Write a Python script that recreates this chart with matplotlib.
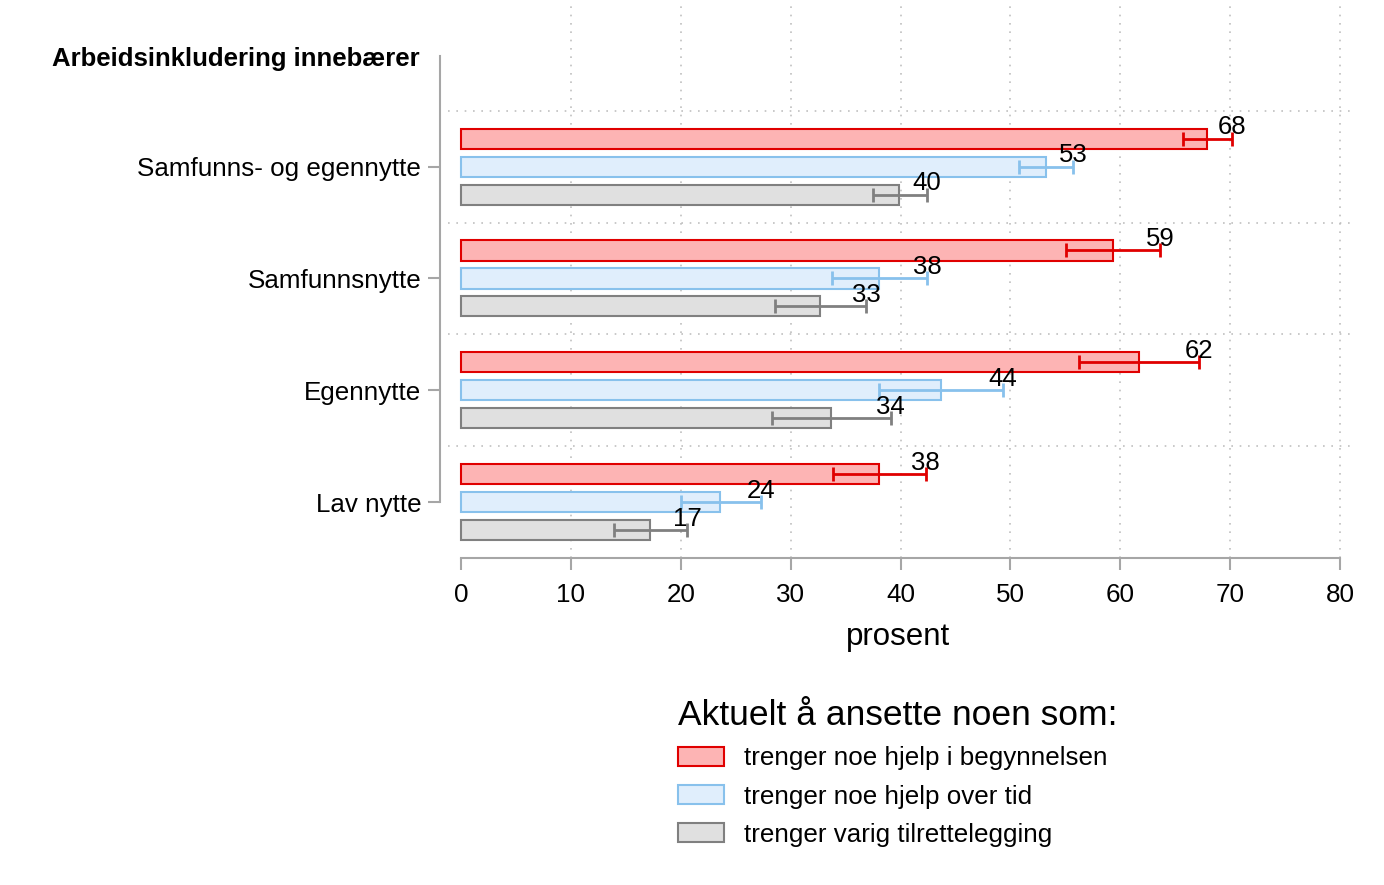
import matplotlib.pyplot as plt
from matplotlib.patches import Patch

plt.rcParams["font.family"] = ["Liberation Sans", "DejaVu Sans"]

# data
categories = ["Samfunns- og egennytte", "Samfunnsnytte", "Egennytte", "Lav nytte"]
series = ["trenger noe hjelp i begynnelsen", "trenger noe hjelp over tid",
          "trenger varig tilrettelegging"]
values = [
    [67.9, 59.3, 61.7, 38.0],
    [53.2, 38.0, 43.7, 23.6],
    [39.9, 32.7, 33.7, 17.2],
]
ci_low = [
    [65.7, 55.1, 56.2, 33.9],
    [50.8, 33.8, 38.0, 20.0],
    [37.5, 28.6, 28.3, 13.9],
]
ci_high = [
    [70.2, 63.6, 67.2, 42.3],
    [55.7, 42.4, 49.3, 27.3],
    [42.4, 36.9, 39.1, 20.6],
]
labels = [
    ["68", "59", "62", "38"],
    ["53", "38", "44", "24"],
    ["40", "33", "34", "17"],
]
ticks = [0, 10, 20, 30, 40, 50, 60, 70, 80]

fills = ["#fdb4b4", "#e0eefc", "#e0e0e0"]
edges = ["#e00000", "#88c1ec", "#808080"]
spine_col = "#a6a6a6"

fig = plt.figure(figsize=(13.84, 8.85), dpi=100)
ax = fig.add_axes([440 / 1384, 1 - 558 / 885, (1356 - 440) / 1384, 558 / 885])

offsets = [-0.25, 0, 0.25]
bar_h = 0.18
for s in range(3):
    ys = [i + offsets[s] for i in range(len(categories))]
    ax.barh(ys, values[s], height=bar_h, color=fills[s], edgecolor=edges[s],
            linewidth=1.5, zorder=3)
    xerr = [[v - lo for v, lo in zip(values[s], ci_low[s])],
            [hi - v for v, hi in zip(values[s], ci_high[s])]]
    ax.errorbar(values[s], ys, xerr=xerr, fmt="none", ecolor=edges[s],
                elinewidth=2.0, capsize=5.3, capthick=2.0, zorder=4)
    for y, hi, lab in zip(ys, ci_high[s], labels[s]):
        ax.text(hi, y - 0.04, lab, ha="center", va="baseline", fontsize=18.5, zorder=5)

# separators between groups
for k in range(len(categories)):
    ax.plot([-1.2, 81.4], [k - 0.5, k - 0.5], color="#c0c0c0", linestyle=(0, (1, 4)),
            linewidth=1.2, zorder=1)
for t in ticks[1:]:
    ax.axvline(t, color="#c0c0c0", linestyle=(0, (1, 4)), linewidth=1.2, zorder=1)

ax.set_xlim(-1.91, 81.45)
ax.set_ylim(3.5, -1.49)
ax.set_xticks(ticks)
ax.set_yticks(range(len(categories)))
ax.set_yticklabels(categories)
ax.tick_params(axis="both", labelsize=18.7, colors=spine_col, length=8.5, width=1.5,
               labelcolor="black")
ax.tick_params(axis="y", pad=5)
ax.tick_params(axis="x", pad=9.5)
for side in ["top", "right"]:
    ax.spines[side].set_visible(False)
for side in ["left", "bottom"]:
    ax.spines[side].set_color(spine_col)
    ax.spines[side].set_linewidth(1.5)
ax.spines["bottom"].set_bounds(0, 80)
ax.spines["left"].set_bounds(-0.99, 3)
ax.set_xlabel("prosent", fontsize=22.5, labelpad=11)

fig.text(420 / 1384, 1 - 59 / 885, "Arbeidsinkludering innebærer", ha="right",
         va="center", fontsize=18.5, fontweight="bold")

handles = [Patch(facecolor=fills[s], edgecolor=edges[s], linewidth=1.5) for s in range(3)]
leg = fig.legend(handles, series, loc="upper left", bbox_to_anchor=(678 / 1384, 1 - 699 / 885),
                 frameon=False, fontsize=18.7, title="Aktuelt å ansette noen som:",
                 title_fontsize=25.5, alignment="left", handlelength=1.77, handleheight=0.77,
                 handletextpad=0.77, labelspacing=0.55, borderpad=0, borderaxespad=0)

fig.savefig("out.png", dpi=100)
